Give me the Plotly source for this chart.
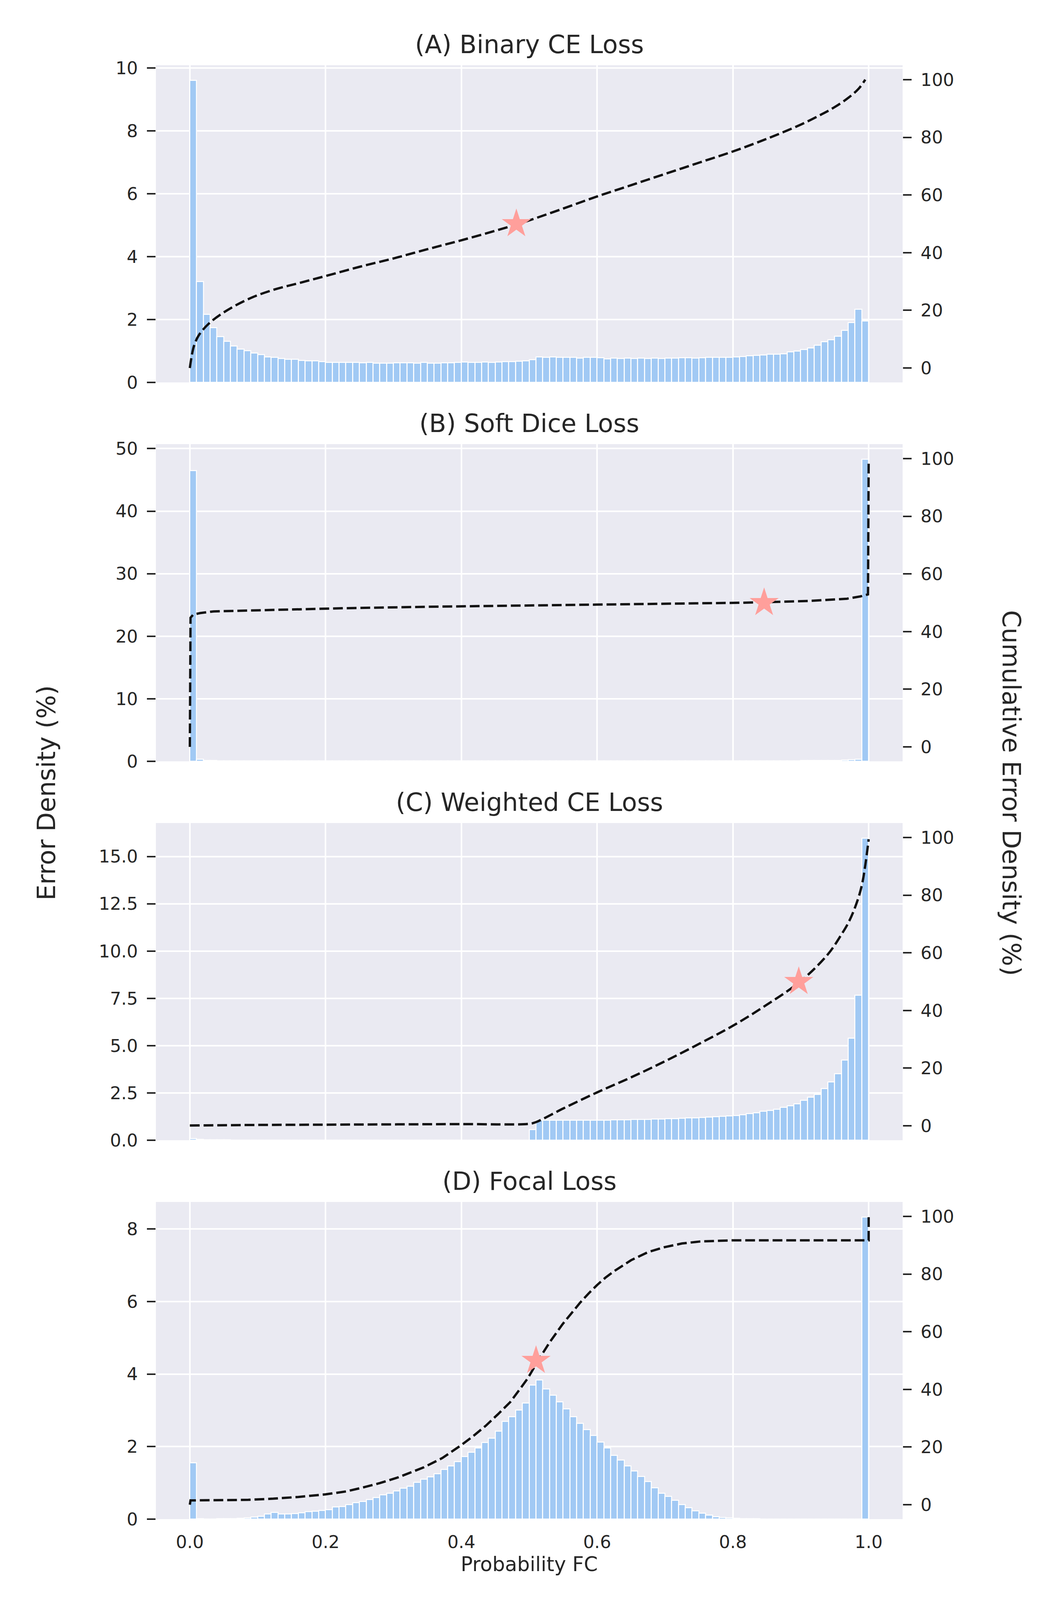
import numpy as np
import plotly.graph_objects as go
from plotly.subplots import make_subplots

# histogram bins of predicted probability (100 bins on [0, 1])
bin_edges = np.linspace(0, 1, 101)

titles = ["(A) Binary CE Loss", "(B) Soft Dice Loss", "(C) Weighted CE Loss", "(D) Focal Loss"]

# error density per bin (%)
bce_density = [
    9.61, 3.20, 2.16, 1.74, 1.45, 1.31, 1.16, 1.06, 1.01, 0.93,
    0.88, 0.81, 0.79, 0.76, 0.73, 0.73, 0.70, 0.68, 0.68, 0.66,
    0.64, 0.64, 0.63, 0.63, 0.64, 0.62, 0.63, 0.61, 0.61, 0.61,
    0.62, 0.62, 0.62, 0.61, 0.63, 0.61, 0.61, 0.62, 0.62, 0.63,
    0.65, 0.64, 0.64, 0.65, 0.64, 0.65, 0.66, 0.66, 0.67, 0.68,
    0.72, 0.81, 0.80, 0.81, 0.80, 0.79, 0.80, 0.77, 0.80, 0.79,
    0.78, 0.75, 0.77, 0.76, 0.77, 0.76, 0.77, 0.76, 0.77, 0.76,
    0.77, 0.77, 0.78, 0.78, 0.77, 0.78, 0.79, 0.79, 0.79, 0.80,
    0.81, 0.82, 0.85, 0.86, 0.87, 0.89, 0.90, 0.91, 0.97, 1.00,
    1.05, 1.09, 1.18, 1.29, 1.35, 1.47, 1.65, 1.90, 2.33, 1.95,
]
dice_density = [
    46.45, 0.30, 0.15, 0.10, 0.08, 0.07, 0.06, 0.06, 0.05, 0.05,
    0.05, 0.05, 0.05, 0.04, 0.04, 0.04, 0.04, 0.04, 0.04, 0.04,
    0.04, 0.04, 0.04, 0.04, 0.04, 0.04, 0.04, 0.04, 0.04, 0.04,
    0.04, 0.04, 0.04, 0.04, 0.04, 0.04, 0.04, 0.04, 0.04, 0.04,
    0.04, 0.04, 0.04, 0.04, 0.04, 0.04, 0.04, 0.04, 0.04, 0.04,
    0.04, 0.04, 0.04, 0.04, 0.04, 0.04, 0.04, 0.04, 0.04, 0.04,
    0.04, 0.04, 0.04, 0.04, 0.04, 0.04, 0.04, 0.04, 0.04, 0.04,
    0.04, 0.04, 0.04, 0.04, 0.04, 0.04, 0.04, 0.04, 0.04, 0.04,
    0.05, 0.05, 0.06, 0.06, 0.07, 0.07, 0.08, 0.08, 0.09, 0.09,
    0.10, 0.10, 0.11, 0.12, 0.13, 0.15, 0.18, 0.22, 0.30, 48.30,
]
wce_density = [
    0.09, 0.04, 0.03, 0.02, 0.02, 0.02, 0.01, 0.01, 0.01, 0.01,
    0.01, 0.01, 0.01, 0.01, 0.01, 0.01, 0.01, 0.01, 0.01, 0.01,
    0.01, 0.01, 0.01, 0.01, 0.01, 0.01, 0.01, 0.01, 0.01, 0.01,
    0.01, 0.01, 0.01, 0.01, 0.01, 0.01, 0.01, 0.01, 0.01, 0.01,
    0.01, 0.01, 0.01, 0.01, 0.01, 0.01, 0.01, 0.01, 0.01, 0.01,
    0.55, 1.05, 1.05, 1.05, 1.05, 1.05, 1.05, 1.05, 1.05, 1.05,
    1.06, 1.06, 1.07, 1.07, 1.08, 1.09, 1.09, 1.10, 1.11, 1.12,
    1.13, 1.14, 1.16, 1.17, 1.18, 1.19, 1.22, 1.24, 1.26, 1.28,
    1.31, 1.34, 1.40, 1.45, 1.52, 1.57, 1.63, 1.73, 1.82, 1.93,
    2.10, 2.27, 2.42, 2.73, 3.07, 3.52, 4.24, 5.40, 7.67, 15.97,
]
focal_density = [
    1.55, 0.01, 0.00, 0.00, 0.01, 0.01, 0.01, 0.02, 0.03, 0.05,
    0.08, 0.14, 0.18, 0.14, 0.14, 0.15, 0.17, 0.20, 0.22, 0.24,
    0.26, 0.33, 0.34, 0.40, 0.45, 0.49, 0.54, 0.59, 0.67, 0.71,
    0.78, 0.85, 0.91, 1.01, 1.10, 1.16, 1.25, 1.37, 1.47, 1.58,
    1.72, 1.84, 1.96, 2.11, 2.23, 2.42, 2.69, 2.82, 3.00, 3.20,
    3.69, 3.83, 3.59, 3.41, 3.23, 3.04, 2.82, 2.64, 2.47, 2.31,
    2.12, 1.96, 1.76, 1.63, 1.47, 1.32, 1.17, 1.03, 0.86, 0.71,
    0.62, 0.52, 0.40, 0.31, 0.23, 0.16, 0.11, 0.07, 0.04, 0.03,
    0.02, 0.01, 0.01, 0.01, 0.00, 0.00, 0.00, 0.00, 0.00, 0.00,
    0.00, 0.00, 0.00, 0.00, 0.00, 0.00, 0.00, 0.00, 0.00, 8.33,
]

# cumulative error density (%)
bce_cum_x = [0.0, 0.006, 0.0136, 0.028, 0.05, 0.087, 0.123, 0.16, 0.2, 0.25, 0.3,
             0.35, 0.4, 0.45, 0.48, 0.5, 0.55, 0.6, 0.65, 0.7, 0.75, 0.8, 0.85,
             0.9, 0.93, 0.95, 0.97, 0.985, 0.995]
bce_cum_y = [0.0, 7.6, 11.5, 15.4, 19.3, 24.0, 27.1, 29.4, 31.9, 35.1, 38.0,
             41.2, 44.3, 47.6, 49.7, 51.2, 55.3, 59.5, 63.4, 67.3, 71.2, 75.1, 79.5,
             84.4, 87.9, 90.5, 93.7, 96.8, 100.0]
dice_cum_x = [0.0, 0.001, 0.005, 0.015, 0.035, 0.08, 0.131, 0.227, 0.35, 0.5, 0.65,
              0.815, 0.911, 0.968, 0.988, 0.999, 1.0]
dice_cum_y = [0.0, 44.8, 45.9, 46.4, 47.0, 47.3, 47.6, 48.1, 48.6, 49.1, 49.6,
              50.0, 50.6, 51.4, 52.2, 52.9, 99.4]
wce_cum_x = [0.0, 0.1, 0.2, 0.3, 0.4, 0.5, 0.51, 0.55, 0.6, 0.65, 0.7, 0.75, 0.8,
             0.85, 0.9, 0.94, 0.96, 0.97, 0.98, 0.99, 1.0]
wce_cum_y = [0.1, 0.3, 0.4, 0.5, 0.6, 0.7, 1.3, 6.0, 11.6, 16.8, 22.4, 28.4, 34.7,
             42.0, 50.2, 59.5, 66.4, 70.4, 75.8, 83.5, 99.4]
focal_cum_x = [0.0, 0.001, 0.05, 0.086, 0.123, 0.16, 0.2, 0.23, 0.252, 0.28, 0.307,
               0.344, 0.372, 0.4, 0.418, 0.436, 0.454, 0.472, 0.485, 0.498, 0.513,
               0.53, 0.549, 0.562, 0.575, 0.588, 0.6, 0.612, 0.625, 0.65, 0.675,
               0.699, 0.725, 0.752, 0.8, 1.0, 1.0]
focal_cum_y = [0.0, 1.5, 1.6, 1.7, 2.1, 2.7, 3.6, 4.6, 5.8, 7.5, 9.5,
               12.9, 16.2, 20.7, 23.9, 27.4, 31.4, 35.6, 39.7, 43.9, 50.0,
               56.3, 62.6, 66.5, 70.1, 73.4, 76.2, 78.7, 81.0, 84.8, 87.6,
               89.3, 90.6, 91.3, 91.7, 91.7, 100.0]

# median marker (50 % of cumulative error)
median_x = [0.481, 0.846, 0.897, 0.510]
median_y = [50, 50, 50, 50]

left_ticks = [[0, 2, 4, 6, 8, 10], [0, 10, 20, 30, 40, 50],
              [0, 2.5, 5, 7.5, 10, 12.5, 15], [0, 2, 4, 6, 8]]
left_ticktext = [None, None, ["0.0", "2.5", "5.0", "7.5", "10.0", "12.5", "15.0"], None]
right_ticks = [0, 20, 40, 60, 80, 100]
x_ticks = [0.0, 0.2, 0.4, 0.6, 0.8, 1.0]

densities = [bce_density, dice_density, wce_density, focal_density]
cum_xs = [bce_cum_x, dice_cum_x, wce_cum_x, focal_cum_x]
cum_ys = [bce_cum_y, dice_cum_y, wce_cum_y, focal_cum_y]
# smooth curves for A and C, straight segments where the curve has sharp corners
cum_shapes = ["spline", "linear", "spline", "linear"]

W, H = 2700, 4102
OFF = 8  # page body margin offset
FONT = "DejaVu Sans"
TXT = "#262626"
BAR_COLOR = "#A1C9F4"
STAR_COLOR = "#FF9F9B"

# panel pixel boxes (top, bottom) in the figure
panel_px = [(167, 979), (1137, 1949), (2107, 2919), (3077, 3889)]
x_dom = [(399 - OFF) / W, (2310 - OFF) / W]


def py(px):
    return 1 - (px - OFF) / H


fig = make_subplots(rows=4, cols=1, shared_xaxes=True,
                    specs=[[{"secondary_y": True}]] * 4)

bin_centers = (bin_edges[:-1] + bin_edges[1:]) / 2

for i in range(4):
    row = i + 1
    fig.add_trace(go.Bar(
        x=bin_centers, y=densities[i], width=0.01,
        marker=dict(color=BAR_COLOR, line=dict(color="white", width=2.5)),
        showlegend=False,
    ), row=row, col=1, secondary_y=False)

    fig.add_trace(go.Scatter(
        x=cum_xs[i], y=cum_ys[i], mode="lines",
        line=dict(color="#111111", width=6, dash="25px,10px", shape=cum_shapes[i]),
        showlegend=False,
    ), row=row, col=1, secondary_y=True)

    fig.add_trace(go.Scatter(
        x=[median_x[i]], y=[median_y[i]], mode="markers",
        marker=dict(symbol="star", size=56, color=STAR_COLOR, line=dict(width=0)),
        showlegend=False,
    ), row=row, col=1, secondary_y=True)

    top, bot = panel_px[i]
    dom = [py(bot), py(top)]
    ymax = max(densities[i]) * 1.05

    fig.update_yaxes(
        domain=dom, range=[0, ymax], tickvals=left_ticks[i], ticktext=left_ticktext[i],
        showgrid=True, gridcolor="white", gridwidth=4, zeroline=False, showline=False,
        ticks="outside", ticklen=22, tickwidth=4, tickcolor=TXT, ticklabelstandoff=14,
        tickfont=dict(family=FONT, size=45, color=TXT), automargin=False,
        row=row, col=1, secondary_y=False,
    )
    fig.update_yaxes(
        domain=dom, range=[-5, 105], tickvals=right_ticks,
        showgrid=False, zeroline=False, showline=False,
        ticks="outside", ticklen=22, tickwidth=4, tickcolor=TXT, ticklabelstandoff=14,
        tickfont=dict(family=FONT, size=45, color=TXT), automargin=False,
        row=row, col=1, secondary_y=True,
    )
    fig.update_xaxes(
        domain=x_dom, range=[-0.05, 1.05], tickvals=x_ticks,
        ticktext=[f"{v:.1f}" for v in x_ticks], showticklabels=(row == 4),
        showgrid=True, gridcolor="white", gridwidth=4, zeroline=False, showline=False,
        ticks="", ticklabelstandoff=28,
        tickfont=dict(family=FONT, size=45, color=TXT), automargin=False,
        row=row, col=1,
    )

    fig.add_annotation(
        text=titles[i], xref="paper", yref="paper",
        x=(x_dom[0] + x_dom[1]) / 2, y=dom[1], xanchor="center", yanchor="bottom",
        yshift=14, showarrow=False, font=dict(family=FONT, size=64, color=TXT),
    )

fig.add_annotation(
    text="Probability FC", xref="paper", yref="paper",
    x=(x_dom[0] + x_dom[1]) / 2, y=py(4004), xanchor="center", yanchor="middle",
    showarrow=False, font=dict(family=FONT, size=51, color=TXT),
)
fig.add_annotation(
    text="Error Density (%)", xref="paper", yref="paper",
    x=(119 - OFF) / W, y=py(2030), xanchor="center", yanchor="middle", textangle=-90,
    showarrow=False, font=dict(family=FONT, size=64, color=TXT),
)
fig.add_annotation(
    text="Cumulative Error Density (%)", xref="paper", yref="paper",
    x=(2588 - OFF) / W, y=py(2030), xanchor="center", yanchor="middle", textangle=90,
    showarrow=False, font=dict(family=FONT, size=64, color=TXT),
)

fig.update_layout(
    width=W, height=H,
    margin=dict(l=0, r=0, t=0, b=0),
    paper_bgcolor="white",
    plot_bgcolor="#EAEAF2",
    bargap=0,
    font=dict(family=FONT, color=TXT),
)

fig.write_html("out.html")
